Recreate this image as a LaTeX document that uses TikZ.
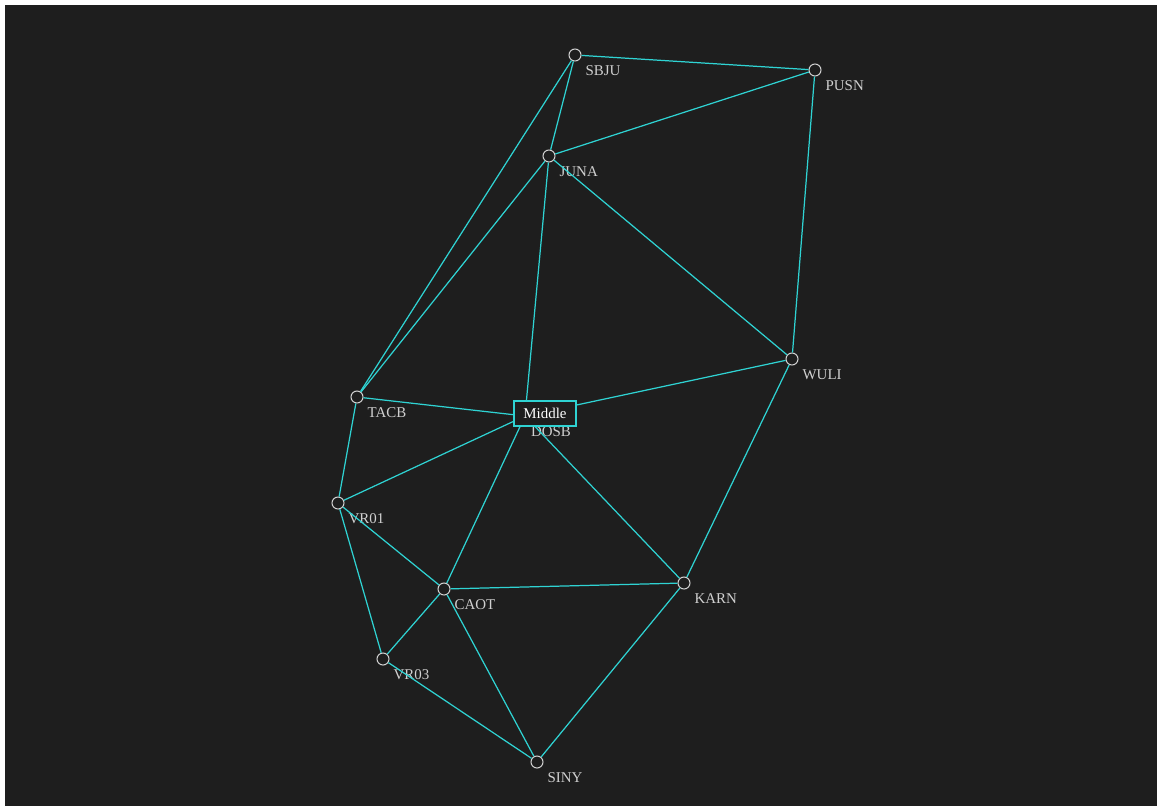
\documentclass[tikz,border=0pt]{standalone}
\usepackage{fontspec}
\setmainfont{Liberation Serif}
\usepackage{tikz}
\usetikzlibrary{positioning}
\definecolor{bgdark}{HTML}{1E1E1E}
\definecolor{linkcyan}{HTML}{2FD3D3}
\definecolor{stngray}{HTML}{D0D0D0}

\begin{document}
\begin{tikzpicture}[x=0.02cm,y=-0.02cm,
  lbl/.style={text=stngray,font=\fontsize{8.5}{9}\selectfont,inner sep=0pt},
  stn/.style={circle,draw=stngray,fill=bgdark,line width=0.6pt,minimum size=0.24cm,inner sep=0pt,
              label={[lbl,label distance=0.16cm]-45:#1}},
  link/.style={draw=linkcyan,line width=0.7pt}]
  % frame and background
  \useasboundingbox (0,0) rectangle (1159,809);
  \fill[white] (0,0) rectangle (1159,809);
  \fill[bgdark] (5,5) rectangle (1157,806);
  % stations
  \coordinate (dosb) at (525,416);
  \node[lbl] (dosblbl) at (551,432) {DOSB};
  \node[stn=SBJU] (sbju) at (575,55) {};
  \node[stn=PUSN] (pusn) at (815,70) {};
  \node[stn=JUNA] (juna) at (549,156) {};
  \node[stn=WULI] (wuli) at (792,359) {};
  \node[stn=TACB] (tacb) at (357,397) {};
  \node[stn=VR01] (vr01) at (338,503) {};
  \node[stn=CAOT] (caot) at (444,589) {};
  \node[stn=KARN] (karn) at (684,583) {};
  \node[stn=VR03] (vr03) at (383,659) {};
  \node[stn=SINY] (siny) at (537,762) {};
  % links
  \foreach \a/\b in {sbju/pusn,sbju/juna,sbju/tacb,juna/pusn,juna/tacb,juna/dosb,juna/wuli,pusn/wuli,
                     wuli/dosb,wuli/karn,tacb/dosb,tacb/vr01,vr01/dosb,vr01/caot,vr01/vr03,
                     dosb/caot,dosb/karn,caot/karn,caot/vr03,caot/siny,vr03/siny,karn/siny}
    \draw[link] (\a) -- (\b);
  \node[draw=linkcyan,fill=bgdark,line width=1pt,minimum width=1.24cm,minimum height=0.5cm,inner sep=0pt,
        text=white,font=\fontsize{8.5}{9}\selectfont] (middle) at (545,413.5) {Middle};
\end{tikzpicture}
\end{document}
